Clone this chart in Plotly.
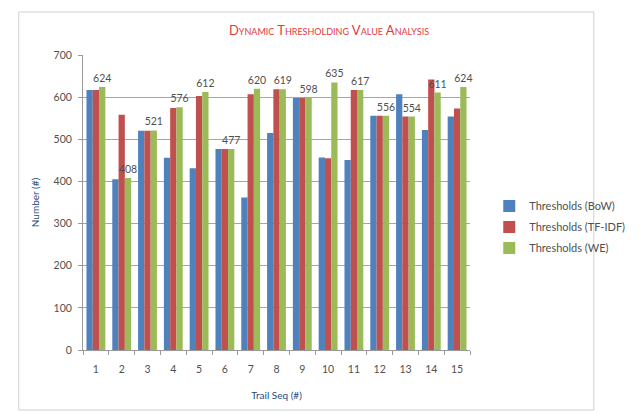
import plotly.graph_objects as go

categories = [str(i) for i in range(1, 16)]
bow = [617, 405, 520, 456, 431, 477, 362, 515, 598, 457, 451, 556, 607, 522, 554]
tfidf = [617, 558, 520, 574, 603, 477, 607, 619, 598, 455, 617, 556, 554, 642, 573]
we = [624, 408, 521, 576, 612, 477, 620, 619, 598, 635, 617, 556, 554, 611, 624]
series_names = ["Thresholds (BoW)", "Thresholds (TF-IDF)", "Thresholds (WE)"]
colors = ["#4F81BD", "#C0504D", "#9BBB59"]
y_ticks = [0, 100, 200, 300, 400, 500, 600, 700]

FONT = "Lato, Open Sans, sans-serif"
L, R, T, B = 83, 137, 55, 62
W, H = 642, 412
pw, ph = W - L - R, H - T - B

fig = go.Figure()
for i, (name, vals) in enumerate(zip(series_names, [bow, tfidf, we])):
    kw = {}
    if i == 2:
        kw = dict(text=[str(v) for v in vals], textposition="outside",
                  textfont=dict(family=FONT, size=10.5, color="#505050"),
                  constraintext="none", cliponaxis=False)
    fig.add_trace(go.Bar(x=categories, y=vals, name=name,
                         marker=dict(color=colors[i], line=dict(width=0)),
                         legendgroup=name, **kw))

fig.update_layout(
    width=W, height=H,
    margin=dict(l=L, r=R, t=T, b=B),
    paper_bgcolor="white", plot_bgcolor="white",
    barmode="group", bargap=0.27, bargroupgap=0,
    font=dict(family=FONT, size=10, color="#505050"),
    title=dict(text="Dynamic Thresholding Value Analysis",
               x=(329) / W, xanchor="center", y=1 - 30 / H, yanchor="middle",
               font=dict(family=FONT, size=13, color="#E03A44", variant="small-caps")),
    legend=dict(x=(526 - L) / pw, y=(350 - 227) / ph, xanchor="left", yanchor="middle",
                font=dict(family=FONT, size=11, color="#505050"),
                tracegroupgap=2, itemwidth=30, bgcolor="rgba(0,0,0,0)"),
    xaxis=dict(title=dict(text="Trail Seq (#)", font=dict(size=10, color="#1F497D"), standoff=18),
               showgrid=False, showline=True, linecolor="#9A9A9A", linewidth=1,
               ticks="outside", tickson="boundaries", ticklen=4, tickcolor="#9A9A9A",
               ticklabelstandoff=9,
               tickfont=dict(size=10.5, color="#505050")),
    yaxis=dict(title=dict(text="Number (#)", font=dict(size=10, color="#1F497D"), standoff=12),
               range=[0, 700], tickvals=y_ticks, showgrid=True, gridcolor="#A6A6A6",
               gridwidth=1, showline=True, linecolor="#9A9A9A", linewidth=1,
               ticks="outside", ticklen=4, tickcolor="#9A9A9A", ticklabelstandoff=4,
               tickfont=dict(size=10.5, color="#505050"), zeroline=False),
    shapes=[dict(type="rect", xref="paper", yref="paper",
                 x0=(13 - L) / pw, x1=(640 - L) / pw,
                 y0=(350 - 410) / ph, y1=(350 - 12) / ph,
                 line=dict(color="#D0D0D0", width=1), layer="below")],
)

fig.write_html("out.html")
